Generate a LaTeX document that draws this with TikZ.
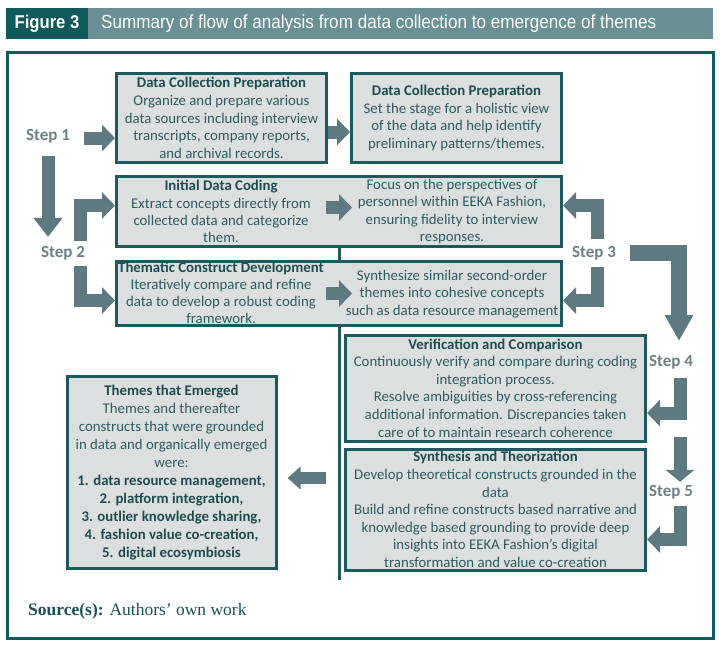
\documentclass[tikz,border=0pt]{standalone}
\usepackage{fontspec}
\setmainfont{Carlito}
\newfontfamily\titlefont[FakeStretch=0.9]{Liberation Sans}
\newfontfamily\srcfont{Liberation Serif}
\usetikzlibrary{arrows.meta,positioning}
\definecolor{tealdark}{HTML}{105A5C}
\definecolor{tealgrey}{HTML}{6A8F95}
\definecolor{boxline}{HTML}{1C5A5F}
\definecolor{boxfill}{HTML}{DCDFE0}
\definecolor{bodytext}{HTML}{2E5B5F}
\definecolor{titletext}{HTML}{1F4B50}
\definecolor{arrowgrey}{HTML}{5E7A80}
\definecolor{steptext}{HTML}{6B8186}
\definecolor{srctext}{HTML}{1B5055}
\newcommand\boxtitle[1]{{\bfseries\color{titletext}#1}}

\begin{document}
\begin{tikzpicture}[x=1pt,y=-1pt,
    flowbox/.style={draw=boxline,line width=3pt,fill=boxfill,text=bodytext,inner sep=1pt,align=center,font=\fontsize{14.8}{17.6}\selectfont},
    halftext/.style={text=bodytext,inner sep=0pt,align=center,font=\fontsize{14.8}{17.2}\selectfont},
    steplabel/.style={text=steptext,inner sep=0pt,font=\fontsize{17}{20}\selectfont\bfseries},
    flowarrow/.style={draw=arrowgrey,line width=13pt,line join=miter,-{Triangle[width=26pt,length=13pt]}},
    divider/.style={draw=boxline,line width=3pt}]
    \useasboundingbox (0,0) rectangle (722,649);
    \fill[white] (0,0) rectangle (722,649);
    \node[fill=tealdark,text=white,inner sep=0pt,minimum width=82pt,minimum height=31pt,font=\titlefont\bfseries\fontsize{18.5}{20}\selectfont] (fignum) at (47,23.5) {Figure 3};
    \fill[tealgrey] (fignum.north east) rectangle (713,39);
    \node[anchor=west,text=white,inner sep=0pt,font=\titlefont\fontsize{19}{21}\selectfont] (figtitle) at (101,23.5) {Summary of flow of analysis from data collection to emergence of themes};
    \draw[line width=3pt,draw=tealdark] (7,52) rectangle (713,638);

    \node[flowbox,minimum width=210pt,minimum height=89pt] (prepA) at (221.5,118) {\boxtitle{Data Collection Preparation}\\Organize and prepare various\\data sources including interview\\transcripts, company reports,\\and archival records.};
    \node[flowbox,minimum width=210pt,minimum height=89pt] (prepB) at (456.5,118) {\boxtitle{Data Collection Preparation}\\Set the stage for a holistic view\\of the data and help identify\\preliminary patterns/themes.};
    \node[flowbox,minimum width=445pt,minimum height=70pt] (coding) at (339,211.5) {};
    \node[halftext] (codingL) at (221,211.5) {\boxtitle{Initial Data Coding}\\Extract concepts directly from\\collected data and categorize\\them.};
    \node[halftext] (codingR) at (452,211.5) {Focus on the perspectives of\\personnel within EEKA Fashion,\\ensuring fidelity to interview\\responses.};
    \node[flowbox,minimum width=445pt,minimum height=64pt] (thematic) at (339,293.5) {};
    \node[halftext,font=\fontsize{14.8}{16.8}\selectfont] (thematicL) at (221,293) {\boxtitle{Thematic Construct Development}\\Iteratively compare and refine\\data to develop a robust coding\\framework.};
    \node[halftext] (thematicR) at (452,294) {Synthesize similar second-order\\themes into cohesive concepts\\such as data resource management};
    \node[flowbox,minimum width=300pt,minimum height=106pt] (verify) at (495.5,388) {\boxtitle{Verification and Comparison}\\Continuously verify and compare during coding\\integration process.\\Resolve ambiguities by cross-referencing\\additional information. Discrepancies taken\\care of to maintain research coherence};
    \node[flowbox,minimum width=300pt,minimum height=121pt] (synth) at (495.5,509.5) {\boxtitle{Synthesis and Theorization}\\Develop theoretical constructs grounded in the\\data\\Build and refine constructs based narrative and\\knowledge based grounding to provide deep\\insights into EEKA Fashion’s digital\\transformation and value co-creation};
    \node[flowbox,minimum width=209pt,minimum height=192pt,font=\fontsize{14.8}{18}\selectfont] (themes) at (171.5,472.5) {\boxtitle{Themes that Emerged}\\Themes and thereafter\\constructs that were grounded\\in data and organically emerged\\were:\\\boxtitle{1. data resource management,}\\\boxtitle{2. platform integration,}\\\boxtitle{3. outlier knowledge sharing,}\\\boxtitle{4. fashion value co-creation,}\\\boxtitle{5. digital ecosymbiosis}};

    \node[steplabel] (s1) at (48,136) {Step 1};
    \node[steplabel] (s2) at (63,253) {Step 2};
    \node[steplabel] (s3) at (594,253) {Step 3};
    \node[steplabel] (s4) at (671,362) {Step 4};
    \node[steplabel] (s5) at (671,492) {Step 5};
    \coordinate (gstart) at (326,478);
    \coordinate (divend) at (339,580);

    \draw[divider] (coding.south) -- (thematic.north);
    \draw[divider] (thematic.south) -- (divend);

    \draw[flowarrow,shorten <=14pt] ([yshift=-2pt]s1.east) -- ([yshift=-2pt]s1.east -| prepA.west);
    \draw[flowarrow] ([yshift=-14pt]prepA.east) -- ([yshift=-14pt]prepB.west);
    \draw[flowarrow,shorten <=13pt,shorten >=9pt,-{Triangle[width=28pt,length=19pt]}] (s1.south) -- (s1.south |- s2.north);
    \draw[flowarrow,shorten <=5pt] ([xshift=17pt]s2.north) |- ([yshift=6pt]coding.west);
    \draw[flowarrow,shorten <=6pt] ([xshift=17pt]s2.south) |- ([yshift=-7pt]thematic.west);
    \draw[flowarrow] ([xshift=-13pt,yshift=4pt]coding.center) -- ([xshift=13pt,yshift=4pt]coding.center);
    \draw[flowarrow] ([xshift=-13pt]thematic.center) -- ([xshift=13pt]thematic.center);
    \draw[flowarrow,shorten <=7pt] ([xshift=3pt]s3.north) |- ([yshift=6pt]coding.east);
    \draw[flowarrow,shorten <=7pt] ([xshift=3pt]s3.south) |- ([yshift=-7pt]thematic.east);
    \draw[flowarrow,line width=16pt,shorten <=14pt,shorten >=14pt,-{Triangle[width=27pt,length=26pt]}] (s3.east) -| ([xshift=8pt]s4.north);
    \draw[flowarrow,shorten <=9pt] ([xshift=9pt]s4.south) |- ([yshift=-25pt]verify.east);
    \draw[flowarrow,shorten <=68pt,shorten >=3pt,-{Triangle[width=28pt,length=12pt]}] ([xshift=9pt]s4.south) -- ([xshift=9pt]s5.north);
    \draw[flowarrow,shorten <=7pt] ([xshift=9pt]s5.south) |- ([yshift=-30pt]synth.east);
    \draw[flowarrow,line width=12pt,shorten >=10pt,-{Triangle[width=22pt,length=13pt]}] (gstart) -- (gstart -| themes.east);

    \node[anchor=base west,text=srctext,inner sep=0pt,font=\srcfont\fontsize{17.5}{20}\selectfont] (source) at (28,615) {\textbf{Source(s):} Authors’ own work};
\end{tikzpicture}
\end{document}
